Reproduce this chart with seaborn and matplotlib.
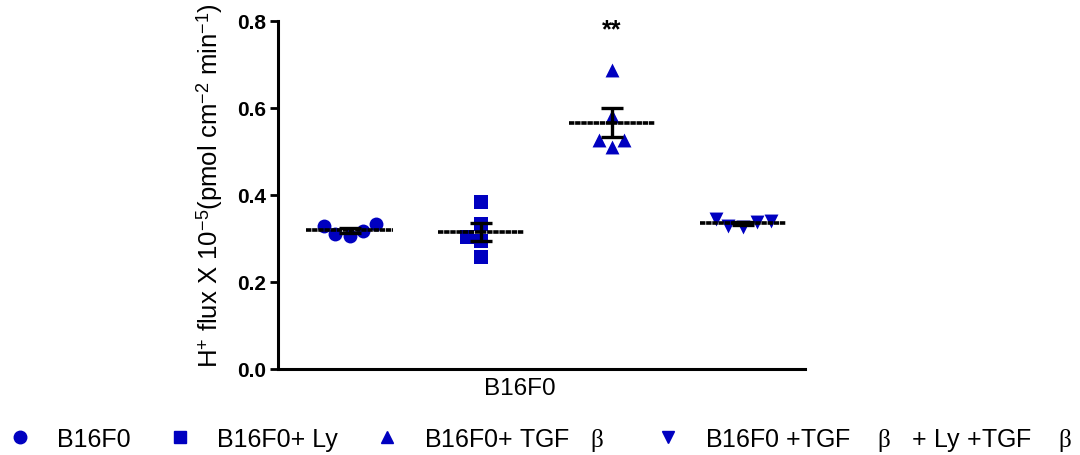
import numpy as np
import pandas as pd
import seaborn as sns
import matplotlib.pyplot as plt
from matplotlib.lines import Line2D

# values (H+ flux x 1e-5)
groups = ['B16F0', 'B16F0+ Ly', 'B16F0+ TGF   $\\beta$   ',
          'B16F0 +TGF    $\\beta$   + Ly +TGF    $\\beta$']
b16f0 = [0.317, 0.332, 0.306, 0.329, 0.309]
b16f0_ly = [0.383, 0.332, 0.303, 0.294, 0.258]
b16f0_tgf = [0.687, 0.582, 0.526, 0.510, 0.526]
b16f0_tgf_ly = [0.337, 0.345, 0.326, 0.339, 0.329]
markers = ['o', 's', '^', 'v']
blue = '#0000C0'

df = pd.DataFrame({
    'group': np.repeat(groups, 5),
    'flux': b16f0 + b16f0_ly + b16f0_tgf + b16f0_tgf_ly,
})

sns.set_style('ticks')
plt.rcParams['font.family'] = ['Liberation Sans', 'DejaVu Sans']
plt.rcParams['mathtext.fontset'] = 'custom'
plt.rcParams['mathtext.rm'] = 'Liberation Sans'
plt.rcParams['mathtext.it'] = 'Liberation Serif'
plt.rcParams['mathtext.bf'] = 'Liberation Sans:bold'
plt.rcParams['text.color'] = 'black'
plt.rcParams['axes.edgecolor'] = 'black'
plt.rcParams['axes.labelcolor'] = 'black'
plt.rcParams['xtick.color'] = 'black'
plt.rcParams['ytick.color'] = 'black'

fig = plt.figure(figsize=(10.8, 4.56), dpi=100)
ax = fig.add_axes([0.257, 0.189, 0.488, 0.763])

for g, m in zip(groups, markers):
    sns.swarmplot(data=df[df['group'] == g], x='group', y='flux', order=groups,
                  marker=m, color=blue, size=10, ax=ax, zorder=2)

stats = df.groupby('group', sort=False)['flux'].agg(['mean', 'sem'])
pos = np.arange(len(groups))
ax.hlines(stats['mean'], pos - 0.33, pos + 0.33, color='black', lw=2.6,
          linestyles=(0, (1.5, 0.2)), zorder=3)
ax.errorbar(pos, stats['mean'], yerr=stats['sem'], fmt='none', ecolor='black',
            elinewidth=2.4, capsize=8, capthick=2.4, zorder=4)

ax.text(2, 0.765, '**', ha='center', va='baseline', fontsize=18, fontweight='bold')

ax.set_xlim(-0.55, 3.47)
ax.set_ylim(0, 0.8)
ax.set_yticks([0.0, 0.2, 0.4, 0.6, 0.8])
ax.set_yticklabels(['0.0', '0.2', '0.4', '0.6', '0.8'], fontsize=15, fontweight='bold')
ax.set_xticks([1.3])
ax.set_xticklabels(['B16F0'], fontsize=17.5)
ax.tick_params(axis='x', length=0, pad=6)
ax.tick_params(axis='y', length=6, width=2, pad=2)
ax.set_xlabel('')
ax.set_ylabel('H$^{+}$ flux X 10$^{-5}$(pmol cm$^{-2}$ min$^{-1}$)', fontsize=18.5)
ax.yaxis.set_label_coords(-0.1, 0.53)
for s in ['top', 'right']:
    ax.spines[s].set_visible(False)
for s in ['left', 'bottom']:
    ax.spines[s].set_linewidth(2.2)

handles = [Line2D([], [], marker=m, color=blue, linestyle='none', markersize=9)
           for m in markers]
fig.legend(handles, groups, loc='lower left', bbox_to_anchor=(-0.014, -0.045),
           ncol=4, frameon=False, fontsize=18, handletextpad=1.0, columnspacing=1.45,
           handlelength=1.0)

fig.savefig('out.png', dpi=100)
